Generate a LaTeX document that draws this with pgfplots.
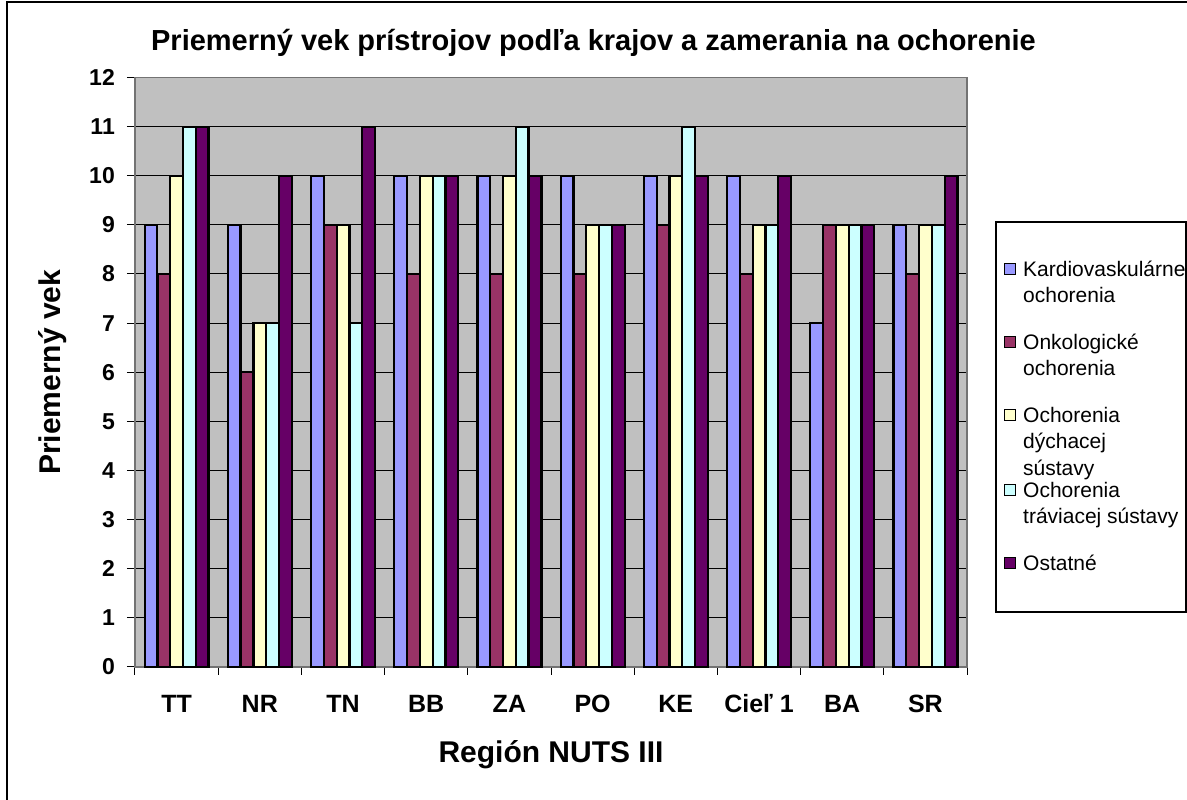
\documentclass[border=0pt]{standalone}
\usepackage{fontspec}
\setmainfont{Liberation Sans}
\usepackage{pgfplots}
\pgfplotsset{compat=1.18}
\definecolor{cA}{HTML}{9999FF}
\definecolor{cB}{HTML}{993366}
\definecolor{cC}{HTML}{FFFFCC}
\definecolor{cD}{HTML}{CCFFFF}
\definecolor{cE}{HTML}{660066}
\definecolor{plotgray}{HTML}{C0C0C0}
\begin{document}
\begin{tikzpicture}[x=1pt,y=1pt]
\useasboundingbox (0,0) rectangle (1187,800);
\fill[white] (0,0) rectangle (1187,800);
\draw[line width=1.5pt] (7,-20) -- (7,798) -- (1210,798);
\node[font=\bfseries\fontsize{29}{29}\selectfont] at (593.5,757) {Priemerný vek prístrojov podľa krajov a zamerania na ochorenie};
\begin{axis}[
  at={(135pt,133pt)}, anchor=south west,
  scale only axis, width=832pt, height=589.5pt,
  xmin=-0.5, xmax=9.5, ymin=0, ymax=12,
  axis background/.style={fill=plotgray},
  axis line style={draw=black!55, line width=1.5pt},
  ytick={0,1,2,3,4,5,6,7,8,9,10,11,12},
  ymajorgrids, grid style={black, line width=1pt},
  xtick={-0.5,0.5,1.5,2.5,3.5,4.5,5.5,6.5,7.5,8.5,9.5},
  x tick label as interval,
  xticklabels={TT,NR,TN,BB,ZA,PO,KE,Cieľ 1,BA,SR},
  tick pos=left,
  tick align=outside, major tick length=8pt,
  tick style={black, line width=1pt},
  /pgf/number format/assume math mode=true,
  yticklabel style={font=\bfseries\fontsize{23}{23}\selectfont, inner sep=0pt, xshift=-12pt},
  xticklabel style={font=\bfseries\fontsize{25}{25}\selectfont, inner sep=0pt, anchor=north, text height=18pt, text depth=0pt, yshift=-19pt},
  xlabel={Región NUTS III}, ylabel={Priemerný vek},
  every axis x label/.style={at={(axis description cs:0.5,-0.1493)}, anchor=center, font=\bfseries\fontsize{30}{30}\selectfont},
  every axis y label/.style={at={(axis description cs:-0.0986,0.5)}, rotate=90, anchor=center, font=\bfseries\fontsize{30}{30}\selectfont},
  ybar, bar width=0.1538,
  clip=false,
]
\addplot[fill=cA, draw=black, line width=2.2pt, bar shift=-0.3077] coordinates {(0,9) (1,9) (2,10) (3,10) (4,10) (5,10) (6,10) (7,10) (8,7) (9,9)};
\addplot[fill=cB, draw=black, line width=2.2pt, bar shift=-0.1538] coordinates {(0,8) (1,6) (2,9) (3,8) (4,8) (5,8) (6,9) (7,8) (8,9) (9,8)};
\addplot[fill=cC, draw=black, line width=2.2pt, bar shift=0] coordinates {(0,10) (1,7) (2,9) (3,10) (4,10) (5,9) (6,10) (7,9) (8,9) (9,9)};
\addplot[fill=cD, draw=black, line width=2.2pt, bar shift=0.1538] coordinates {(0,11) (1,7) (2,7) (3,10) (4,11) (5,9) (6,11) (7,9) (8,9) (9,9)};
\addplot[fill=cE, draw=black, line width=2.2pt, bar shift=0.3077] coordinates {(0,11) (1,10) (2,11) (3,10) (4,10) (5,9) (6,10) (7,10) (8,9) (9,10)};
\end{axis}
% legend
\draw[line width=1.2pt, fill=white] (996,188) rectangle (1186,578);
\begin{scope}[every node/.style={font=\fontsize{21}{21}\selectfont, anchor=base west, inner sep=0pt}]
\draw[fill=cA, line width=1.5pt] (1004.5,525.5) rectangle (1015.5,536.5);
\node at (1023,523.5) {Kardiovaskulárne};
\node at (1023,497) {ochorenia};
\draw[fill=cB, line width=1.5pt] (1004.5,452.5) rectangle (1015.5,463.5);
\node at (1023,450.5) {Onkologické};
\node at (1023,424.5) {ochorenia};
\draw[fill=cC, line width=1.5pt] (1004.5,379.5) rectangle (1015.5,390.5);
\node at (1023,377.5) {Ochorenia};
\node at (1023,351) {dýchacej};
\node at (1023,324) {sústavy};
\draw[fill=cD, line width=1.5pt] (1004.5,304.5) rectangle (1015.5,315.5);
\node at (1023,302.5) {Ochorenia};
\node at (1023,276) {tráviacej sústavy};
\draw[fill=cE, line width=1.5pt] (1004.5,231.5) rectangle (1015.5,242.5);
\node at (1023,229.5) {Ostatné};
\end{scope}
\end{tikzpicture}
\end{document}
